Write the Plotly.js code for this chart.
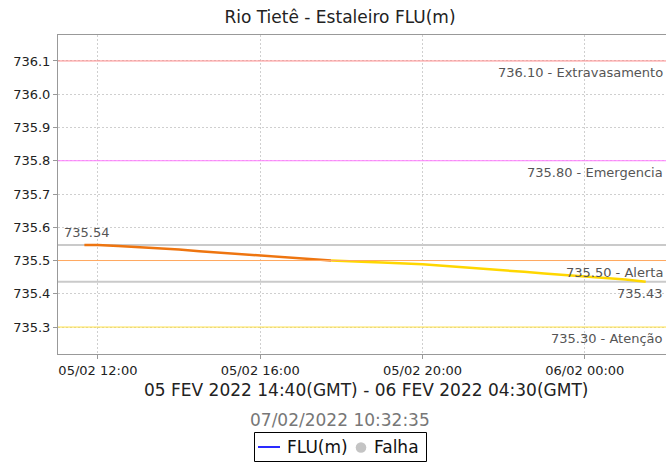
<!DOCTYPE html>
<html><head><meta charset="utf-8">
<script src="https://cdn.plot.ly/plotly-3.0.1.min.js"></script>
<style>html,body{margin:0;padding:0;overflow:hidden;background:#fff}</style>
</head><body><div id="chart" style="width:666px;height:463px"></div>
<script>
const chartTitle = 'Rio Tietê - Estaleiro FLU(m)';
const periodText = '05 FEV 2022 14:40(GMT) - 06 FEV 2022 04:30(GMT)';
const stampText = '07/02/2022 10:32:35';
const seriesName = 'FLU(m)';
const failName = 'Falha';

const times = [
  '2022-02-05 11:40','2022-02-05 12:00','2022-02-05 12:30','2022-02-05 13:00','2022-02-05 13:30',
  '2022-02-05 14:00','2022-02-05 14:30','2022-02-05 15:00','2022-02-05 15:30','2022-02-05 16:00',
  '2022-02-05 16:30','2022-02-05 17:00','2022-02-05 17:30','2022-02-05 17:45','2022-02-05 18:00',
  '2022-02-05 18:30','2022-02-05 19:00','2022-02-05 19:30','2022-02-05 20:00','2022-02-05 20:30',
  '2022-02-05 21:00','2022-02-05 21:30','2022-02-05 22:00','2022-02-05 22:30','2022-02-05 23:00',
  '2022-02-05 23:30','2022-02-06 00:00','2022-02-06 00:30','2022-02-06 01:00','2022-02-06 01:30'
];
const levels = [
  735.547,735.547,735.544,735.541,735.537,
  735.533,735.528,735.524,735.519,735.515,
  735.511,735.507,735.503,735.500,735.498,
  735.496,735.494,735.492,735.489,735.484,
  735.480,735.476,735.471,735.466,735.461,
  735.457,735.453,735.448,735.443,735.436
];

const thresholdValues = [736.10, 735.80, 735.50, 735.30];
const thresholdNames = ['Extravasamento', 'Emergencia', 'Alerta', 'Atenção'];
const thresholdColors = ['#ff8a8a', '#ff7aff', '#ffa860', '#ffe040'];
const lineColors = ['#ee7510', '#ffd700'];
const legendColors = ['#2a2aff', '#c4c4c4'];

const alertLevel = thresholdValues[2];
let k = 0;
for (let i = 0; i < levels.length; i++) if (levels[i] >= alertLevel) k = i;

const maxV = Math.max(...levels), minV = Math.min(...levels);
const trunc2 = v => (Math.floor(v * 100 + 1e-9) / 100).toFixed(2);

const traces = [
  {x: times.slice(0, k + 1), y: levels.slice(0, k + 1), mode: 'lines', name: seriesName, line: {color: lineColors[0], width: 2.5}, showlegend: false},
  {x: times.slice(k), y: levels.slice(k), mode: 'lines', name: seriesName, line: {color: lineColors[1], width: 2.5}, showlegend: false}
];

// pixel helpers for the page furniture (plot area: x 58..666, y 35..354)
const PX = x => (x - 58) / 608;
const PY = y => (354 - y) / 319;

const F = 'DejaVu Sans, sans-serif';
const shapes = [];
const annotations = [];
const R = PX(665);
thresholdValues.forEach((v, i) => {
  shapes.push({type: 'line', xref: 'paper', x0: 0, x1: 1, yref: 'y', y0: v, y1: v, line: {color: thresholdColors[i], width: 1}, layer: 'above'});
  annotations.push({xref: 'paper', x: R, xanchor: 'right', yref: 'y', y: v, yshift: -11.5, yanchor: 'middle', showarrow: false,
    text: v.toFixed(2) + ' - ' + thresholdNames[i], font: {family: F, size: 13, color: '#555'}});
});
[maxV, minV].forEach(v => {
  shapes.push({type: 'line', xref: 'paper', x0: 0, x1: 1, yref: 'y', y0: v, y1: v, line: {color: '#cacaca', width: 2}, layer: 'below'});
});
annotations.push({xref: 'paper', x: PX(62), xanchor: 'left', yref: 'y', y: maxV, yshift: 12, yanchor: 'middle', showarrow: false,
  text: trunc2(maxV), font: {family: F, size: 13, color: '#555'}});
annotations.push({xref: 'paper', x: R, xanchor: 'right', yref: 'y', y: minV, yshift: -11.5, yanchor: 'middle', showarrow: false,
  text: trunc2(minV), font: {family: F, size: 13, color: '#555'}});
annotations.push({xref: 'paper', x: PX(365.5), xanchor: 'center', yref: 'paper', y: PY(390), yanchor: 'middle', showarrow: false,
  text: periodText, font: {family: F, size: 17, color: '#222'}});
annotations.push({xref: 'paper', x: PX(339.5), xanchor: 'center', yref: 'paper', y: PY(420), yanchor: 'middle', showarrow: false,
  text: stampText, font: {family: F, size: 17, color: '#777'}});

// legend box
shapes.push({type: 'rect', xref: 'paper', yref: 'paper', x0: PX(254.5), x1: PX(426.5), y0: PY(432.5), y1: PY(461.5), line: {color: '#000', width: 1}, fillcolor: '#fff'});
shapes.push({type: 'line', xref: 'paper', yref: 'paper', x0: PX(258), x1: PX(280), y0: PY(447), y1: PY(447), line: {color: legendColors[0], width: 2}});
shapes.push({type: 'circle', xref: 'paper', yref: 'paper', x0: PX(355.7), x1: PX(366.3), y0: PY(442.2), y1: PY(452.8), line: {width: 0}, fillcolor: legendColors[1]});
annotations.push({xref: 'paper', x: PX(284.5), xanchor: 'left', yref: 'paper', y: PY(447), yanchor: 'middle', showarrow: false,
  text: seriesName, font: {family: F, size: 17, color: '#111'}});
annotations.push({xref: 'paper', x: PX(371.5), xanchor: 'left', yref: 'paper', y: PY(447), yanchor: 'middle', showarrow: false,
  text: failName, font: {family: F, size: 17, color: '#111'}});

const layout = {
  width: 666, height: 463,
  margin: {l: 58, r: 0, t: 35, b: 109},
  paper_bgcolor: '#fff', plot_bgcolor: '#fff',
  font: {family: F, size: 13, color: '#333'},
  title: {text: chartTitle, font: {family: F, size: 17, color: '#222'}, xref: 'container', x: 340 / 666, xanchor: 'center', yref: 'container', y: 1 - 17.3 / 463, yanchor: 'middle'},
  xaxis: {
    type: 'date', range: ['2022-02-05 11:01', '2022-02-06 02:00'],
    tick0: '2022-02-05 00:00', dtick: 4 * 3600 * 1000, tickformat: '%d/%m %H:%M',
    showgrid: true, gridcolor: '#cfcfcf', griddash: '2px,2px', gridwidth: 1,
    showline: true, linecolor: '#999', linewidth: 1, mirror: true,
    ticks: 'outside', ticklen: 4, tickcolor: '#999',
    tickfont: {family: F, size: 13, color: '#222'}, zeroline: false, fixedrange: true
  },
  yaxis: {
    range: [735.219, 736.178], dtick: 0.1, tick0: 735.3, tickformat: '.1f',
    showgrid: true, gridcolor: '#cfcfcf', griddash: '2px,2px', gridwidth: 1,
    showline: true, linecolor: '#999', linewidth: 1, mirror: false,
    ticks: 'outside', ticklen: 4, tickcolor: '#999',
    tickfont: {family: F, size: 13, color: '#222'}, zeroline: false, fixedrange: true
  },
  showlegend: false,
  shapes: shapes,
  annotations: annotations
};

Plotly.newPlot('chart', traces, layout, {displayModeBar: false, staticPlot: true});
</script></body></html>
